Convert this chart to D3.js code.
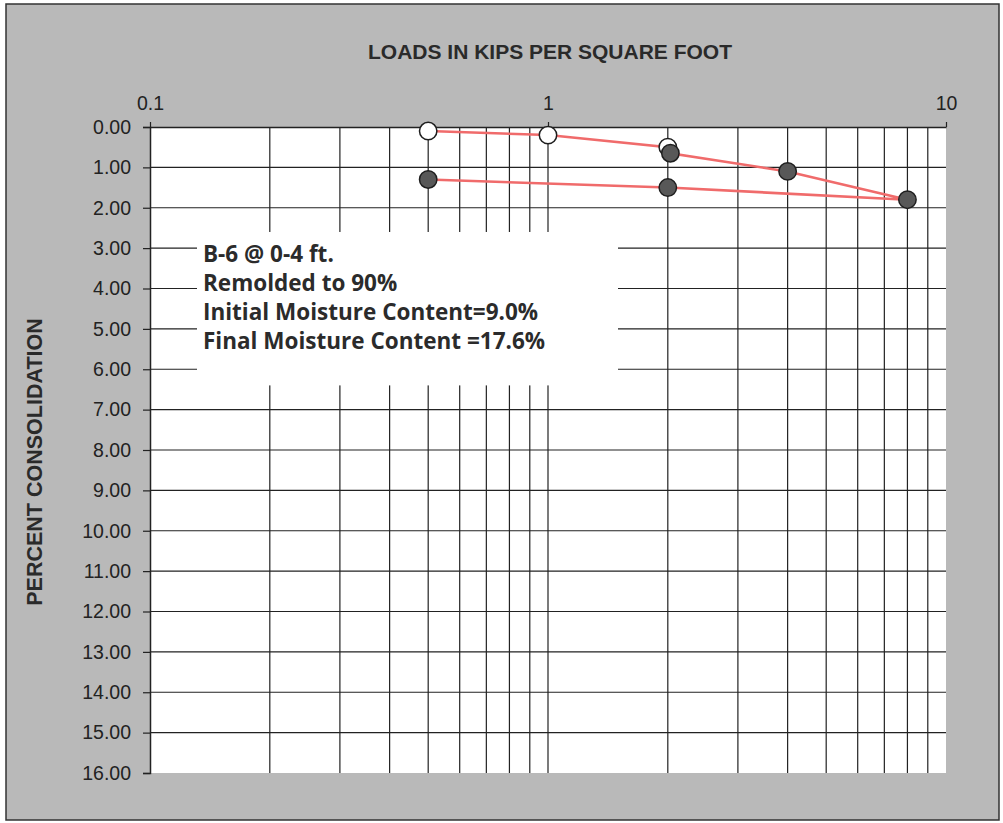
<!DOCTYPE html>
<html>
<head>
<meta charset="utf-8">
<script src="https://cdn.jsdelivr.net/npm/d3@7"></script>
<style>
  body { margin: 0; background: #fff; }
  svg { display: block; }
</style>
</head>
<body>
<div id="chart"></div>
<script>
// load (ksf) vs percent consolidation, in test order
const loads = [0.5, 1, 2, 2.03, 4, 8, 2, 0.5];
const consolidation = [0.1, 0.2, 0.5, 0.65, 1.1, 1.8, 1.5, 1.3];
const inundated = [false, false, false, true, true, true, true, true];

const xLabels = [0.1, 1, 10];
const xGrid = [0.2, 0.3, 0.4, 0.5, 0.6, 0.7, 0.8, 0.9, 1, 2, 3, 4, 5, 6, 7, 8, 9];
const yTicks = d3.range(0, 17);
const yGrid = d3.range(1, 16);

const noteLines = [
  "B-6 @ 0-4 ft.",
  "Remolded to 90%",
  "Initial Moisture Content=9.0%",
  "Final Moisture Content =17.6%"
];

const width = 1003, height = 823;
const margin = {top: 127, right: 57, bottom: 50, left: 150};
const plotW = width - margin.left - margin.right;
const plotH = height - margin.top - margin.bottom;

const x = d3.scaleLog().domain([0.1, 10]).range([0, plotW]);
const y = d3.scaleLinear().domain([0, 16]).range([0, plotH]);

const svg = d3.select("#chart").append("svg")
    .attr("width", width)
    .attr("height", height);

// frame
svg.append("rect")
    .attr("x", 0).attr("y", 0).attr("width", width).attr("height", height)
    .attr("fill", "#fff");
svg.append("rect")
    .attr("x", 6).attr("y", 4).attr("width", 993).attr("height", 816)
    .attr("fill", "#b9b9b9")
    .attr("stroke", "#333")
    .attr("stroke-width", 1.5);

svg.append("text")
    .attr("x", 550).attr("y", 59)
    .attr("text-anchor", "middle")
    .style("font", "bold 21px 'Liberation Sans', Arial, sans-serif")
    .attr("fill", "#2a2a2a")
    .text("LOADS IN KIPS PER SQUARE FOOT");

svg.append("text")
    .attr("transform", `translate(42,${margin.top + plotH / 2 + 12}) rotate(-90)`)
    .attr("text-anchor", "middle")
    .style("font", "bold 21.5px 'Liberation Sans', Arial, sans-serif")
    .attr("fill", "#2a2a2a")
    .text("PERCENT CONSOLIDATION");

const g = svg.append("g").attr("transform", `translate(${margin.left},${margin.top})`);

g.append("rect")
    .attr("width", plotW).attr("height", plotH)
    .attr("fill", "#fff");

// grid
g.append("g")
    .attr("stroke", "#222")
    .attr("stroke-width", 1.2)
  .selectAll("line")
  .data(xGrid)
  .join("line")
    .attr("x1", d => x(d)).attr("x2", d => x(d))
    .attr("y1", 0).attr("y2", plotH);

g.append("g")
    .attr("stroke", "#222")
    .attr("stroke-width", 1.2)
  .selectAll("line")
  .data(yGrid)
  .join("line")
    .attr("x1", 0).attr("x2", plotW)
    .attr("y1", d => y(d)).attr("y2", d => y(d));

// note box
g.append("rect")
    .attr("x", 47)
    .attr("y", y(2.6))
    .attr("width", 421)
    .attr("height", y(6.4) - y(2.6))
    .attr("fill", "#fff");

g.append("g")
    .style("font", "bold 22.5px 'Open Sans', Lato, sans-serif")
    .attr("fill", "#2b2b2b")
  .selectAll("text")
  .data(noteLines)
  .join("text")
    .attr("x", 53)
    .attr("y", (d, i) => y(3.15 + i * 0.72))
    .attr("dy", "0.36em")
    .text(d => d);

// axes
const yAxis = d3.axisLeft(y)
    .tickValues(yTicks)
    .tickSize(7)
    .tickFormat(d3.format(".2f"));
g.append("g")
    .call(yAxis)
    .call(a => a.select(".domain").attr("stroke", "#222").attr("stroke-width", 1.5))
    .call(a => a.selectAll(".tick line").attr("stroke", "#222").attr("stroke-width", 1.2))
    .call(a => a.selectAll(".tick text")
        .attr("x", -19)
        .attr("fill", "#222")
        .style("font", "19.5px 'Liberation Sans', Arial, sans-serif"));

const xAxis = d3.axisTop(x)
    .tickValues(xLabels)
    .tickSize(5)
    .tickSizeOuter(0)
    .tickFormat(d => String(d));
g.append("g")
    .call(xAxis)
    .call(a => a.select(".domain").attr("stroke", "#222").attr("stroke-width", 1.5))
    .call(a => a.selectAll(".tick line").attr("stroke", "#222").attr("stroke-width", 1.2))
    .call(a => a.selectAll(".tick text")
        .attr("y", -17)
        .attr("fill", "#222")
        .style("font", "19.5px 'Liberation Sans', Arial, sans-serif"));

// data
const pts = loads.map((d, i) => ({load: d, c: consolidation[i], wet: inundated[i]}));

g.append("path")
    .datum(pts)
    .attr("fill", "none")
    .attr("stroke", "#f06b6b")
    .attr("stroke-width", 2.6)
    .attr("d", d3.line().x(d => x(d.load)).y(d => y(d.c)));

g.append("g")
  .selectAll("circle")
  .data(pts)
  .join("circle")
    .attr("cx", d => x(d.load))
    .attr("cy", d => y(d.c))
    .attr("r", 8.7)
    .attr("fill", d => d.wet ? "#585858" : "#fff")
    .attr("stroke", "#1e1e1e")
    .attr("stroke-width", 1.5);
</script>
</body>
</html>
